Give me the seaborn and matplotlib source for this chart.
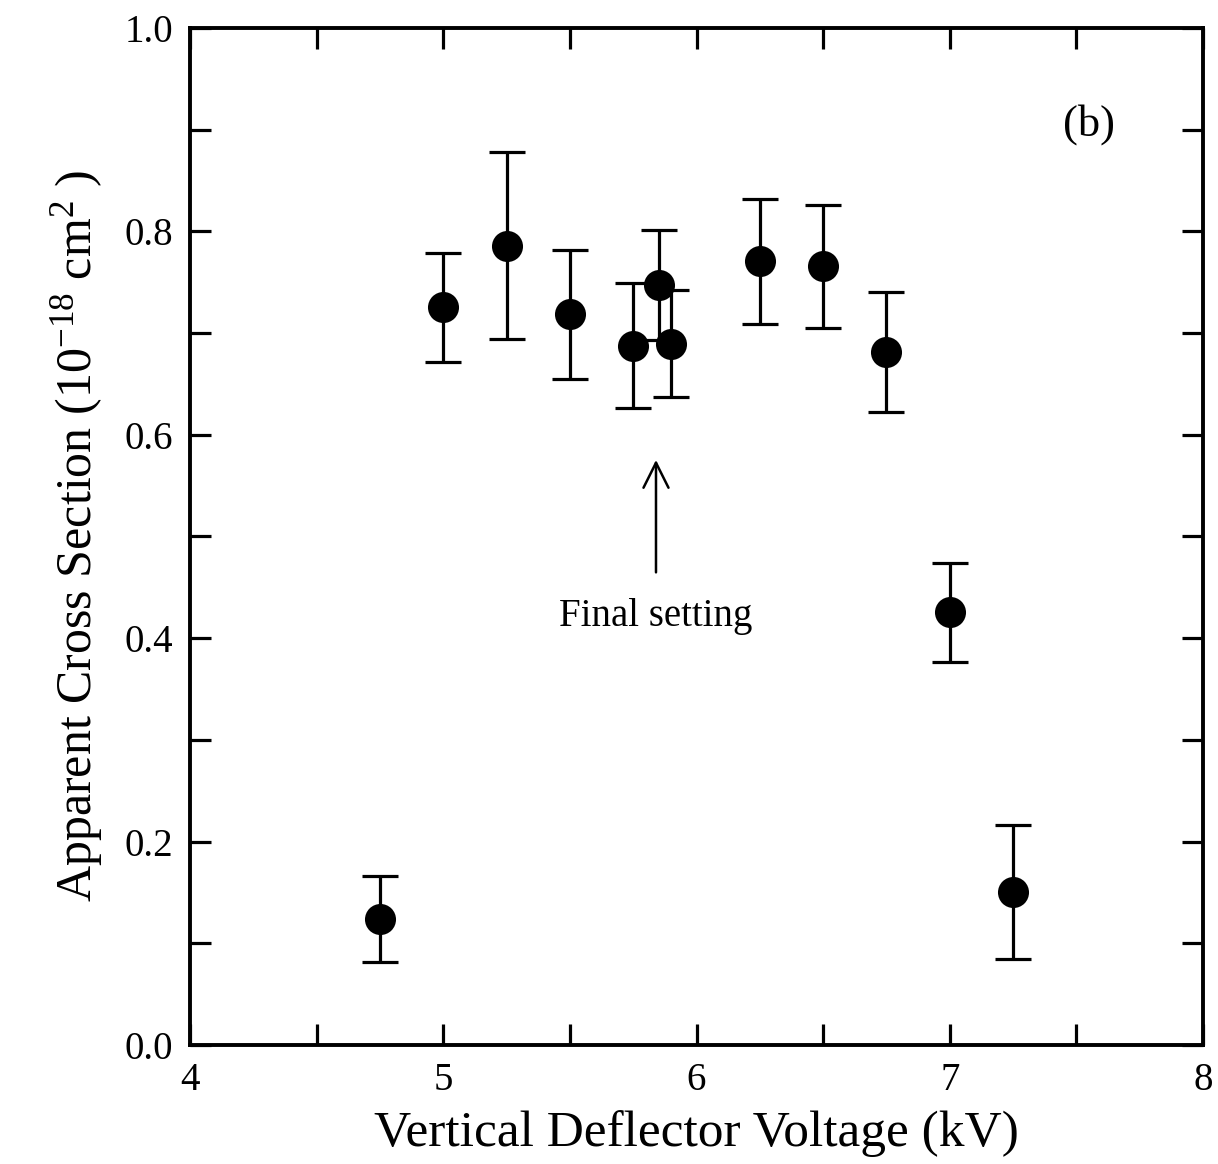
import numpy as np
import pandas as pd
import matplotlib
matplotlib.use("Agg")
import matplotlib.pyplot as plt
import seaborn as sns
from matplotlib.ticker import MultipleLocator

voltage = [4.75, 5.0, 5.25, 5.5, 5.75, 5.85, 5.9, 6.25, 6.5, 6.75, 7.0, 7.25]
cross_section = [0.124, 0.726, 0.786, 0.719, 0.687, 0.747, 0.689, 0.771, 0.766, 0.681, 0.426, 0.150]
err_upper = [0.166, 0.779, 0.878, 0.782, 0.749, 0.801, 0.742, 0.832, 0.826, 0.740, 0.474, 0.216]
err_lower = [0.082, 0.672, 0.694, 0.655, 0.626, 0.693, 0.637, 0.709, 0.705, 0.622, 0.377, 0.085]

x_ticks = [4, 5, 6, 7, 8]
y_ticks = [0.0, 0.2, 0.4, 0.6, 0.8, 1.0]

df = pd.DataFrame({"V": voltage, "S": cross_section,
                   "hi": err_upper, "lo": err_lower})

sns.set_style("ticks")
plt.rcParams['font.family'] = ['Liberation Serif', 'DejaVu Serif']
plt.rcParams['mathtext.fontset'] = 'custom'
plt.rcParams['mathtext.rm'] = 'Liberation Serif'
plt.rcParams['mathtext.it'] = 'Liberation Serif'
for key in ['text.color', 'axes.labelcolor', 'xtick.color', 'ytick.color',
            'axes.edgecolor']:
    plt.rcParams[key] = 'black'

fig = plt.figure(figsize=(12.18, 11.64), dpi=100)
ax = fig.add_axes([0.156, 0.1022, 0.8317, 0.8738])

yerr = np.array([df["S"] - df["lo"], df["hi"] - df["S"]])
ax.errorbar(df["V"], df["S"], yerr=yerr, fmt='none', ecolor='black',
            elinewidth=2.3, capsize=13, capthick=2.3, zorder=2)
sns.scatterplot(data=df, x="V", y="S", ax=ax, color='black', s=500,
                edgecolor='black', linewidth=0, zorder=3, legend=False)

ax.set_xlim(4, 8)
ax.set_ylim(0, 1.0)
ax.set_xticks(x_ticks)
ax.set_xticklabels([str(t) for t in x_ticks])
ax.set_yticks(y_ticks)
ax.set_yticklabels([f"{t:.1f}" for t in y_ticks])
ax.xaxis.set_minor_locator(MultipleLocator(0.5))
ax.yaxis.set_minor_locator(MultipleLocator(0.1))
ax.tick_params(which='both', direction='in', top=True, right=True,
               width=2.3, labelsize=28, pad=12, colors='black')
ax.tick_params(which='major', length=15)
ax.tick_params(which='minor', length=15)
for sp in ax.spines.values():
    sp.set_linewidth(2.8)
    sp.set_color('black')

ax.set_xlabel("Vertical Deflector Voltage (kV)", fontsize=37, labelpad=8)
ax.set_ylabel(r"Apparent Cross Section (10$^{-18}$ cm$^{2}$ )",
              fontsize=36, labelpad=14)

ax.annotate("", xy=(5.84, 0.578), xytext=(5.84, 0.462),
            arrowprops=dict(arrowstyle='->', color='black', lw=1.8,
                            mutation_scale=45))
ax.text(5.84, 0.421, "Final setting", fontsize=28, ha='center', va='center')
ax.text(7.55, 0.905, "(b)", fontsize=32, ha='center', va='center')

fig.savefig("out.png", dpi=100, facecolor='white')
